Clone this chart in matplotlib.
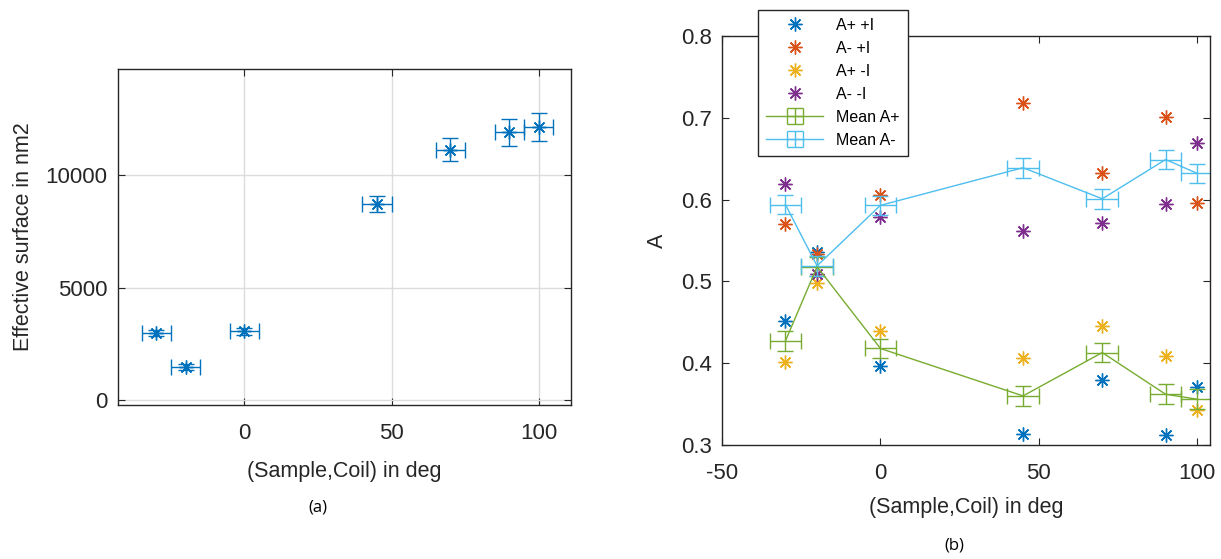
import numpy as np
import matplotlib
matplotlib.use("Agg")
import matplotlib.pyplot as plt

plt.rcParams['font.family'] = ['Liberation Sans', 'DejaVu Sans']
plt.rcParams['axes.unicode_minus'] = False

# panel (a): effective surface
angle_a = [-30, -20, 0, 45, 70, 90, 100]
surface = [2990, 1480, 3060, 8720, 11120, 11890, 12120]
surface_err = [150, 150, 150, 350, 500, 590, 620]
angle_err_a = [5, 5, 5, 5, 5, 5, 5]

# panel (b): A values
angle_b = [-30, -20, 0, 45, 70, 90, 100]
a_plus_pI = [0.451, 0.536, 0.396, 0.314, 0.379, 0.312, 0.371]
a_minus_pI = [0.570, 0.533, 0.606, 0.718, 0.632, 0.701, 0.596]
a_plus_mI = [0.402, 0.498, 0.439, 0.406, 0.445, 0.409, 0.343]
a_minus_mI = [0.619, 0.509, 0.579, 0.562, 0.571, 0.595, 0.669]
mean_a_plus = [0.427, 0.518, 0.418, 0.360, 0.413, 0.362, 0.356]
mean_a_minus = [0.594, 0.519, 0.593, 0.639, 0.601, 0.649, 0.632]
mean_err = [0.012, 0.012, 0.012, 0.012, 0.012, 0.012, 0.012]
angle_err_b = [5, 5, 5, 5, 5, 5, 5]

c_blue = '#0072BD'
c_orange = '#D95319'
c_yellow = '#EDB120'
c_purple = '#7E2F8E'
c_green = '#77AC30'
c_lblue = '#4DBEEE'
ink = '#262626'
star = (8, 2, 0)

W, H = 1221, 559
fig = plt.figure(figsize=(W / 100, H / 100), dpi=100)


def style_axes(ax):
    for s in ax.spines.values():
        s.set_color(ink)
        s.set_linewidth(1.0)
    ax.tick_params(direction='in', top=True, right=True, labelsize=16,
                   colors=ink, length=5, width=0.8)
    ax.tick_params(axis='x', pad=13)
    ax.tick_params(axis='y', pad=7.5)


# ---- (a) ----
ax1 = fig.add_axes([118 / W, 1 - 405 / H, (571 - 118) / W, (405 - 69) / H])
ax1.errorbar(angle_a, surface, yerr=surface_err, xerr=angle_err_a, fmt='none',
             ecolor=c_blue, elinewidth=1.0, capsize=6, capthick=1.0)
ax1.plot(angle_a, surface, linestyle='none', marker=star, markersize=10,
         markeredgecolor=c_blue, markeredgewidth=1.0, color=c_blue)
ax1.set_xlim(-43, 111)
ax1.set_ylim(-200, 14700)
ax1.set_xticks([0, 50, 100])
ax1.set_yticks([0, 5000, 10000])
ax1.grid(True, color='#dcdcdc', linewidth=1.0)
ax1.set_axisbelow(True)
style_axes(ax1)
ax1.set_xlabel('(Sample,Coil) in deg', fontsize=15.5, color=ink, labelpad=12)
ax1.set_ylabel('Effective surface in nm2', fontsize=15.5, color=ink, labelpad=8)
fig.text(318 / W, 1 - 507 / H, '(a)', fontsize=12, family='Open Sans',
         ha='center', va='center')

# ---- (b) ----
ax2 = fig.add_axes([722 / W, 1 - 445 / H, (1210 - 722) / W, (445 - 36) / H])
series = [(a_plus_pI, c_blue, 'A+ +I'), (a_minus_pI, c_orange, 'A- +I'),
          (a_plus_mI, c_yellow, 'A+ -I'), (a_minus_mI, c_purple, 'A- -I')]
for vals, col, lab in series:
    ax2.plot(angle_b, vals, linestyle='none', marker=star, markersize=10,
             markeredgecolor=col, markeredgewidth=1.0, color=col, label=lab)
ax2.errorbar(angle_b, mean_a_plus, yerr=mean_err, xerr=angle_err_b,
             color=c_green, lw=1.0, capsize=6, capthick=1.0, label='Mean A+')
ax2.errorbar(angle_b, mean_a_minus, yerr=mean_err, xerr=angle_err_b,
             color=c_lblue, lw=1.0, capsize=6, capthick=1.0, label='Mean A-')
ax2.set_xlim(-50, 104)
ax2.set_ylim(0.3, 0.8)
ax2.set_xticks([-50, 0, 50, 100])
ax2.set_yticks([0.3, 0.4, 0.5, 0.6, 0.7, 0.8])
style_axes(ax2)
ax2.set_xlabel('(Sample,Coil) in deg', fontsize=15.5, color=ink, labelpad=9)
ax2.set_ylabel('A', fontsize=15.5, color=ink, labelpad=9)
leg = ax2.legend(loc='upper left', bbox_to_anchor=(758 / W, 1 - 10 / H),
                 bbox_transform=fig.transFigure, borderaxespad=0,
                 fontsize=11.5, fancybox=False, framealpha=1,
                 edgecolor=ink, handlelength=3.6, labelspacing=0.5,
                 borderpad=0.5)
leg.get_frame().set_linewidth(1.0)
fig.text(954 / W, 1 - 545 / H, '(b)', fontsize=12, family='Open Sans',
         ha='center', va='center')

fig.savefig('out.png', dpi=100)
